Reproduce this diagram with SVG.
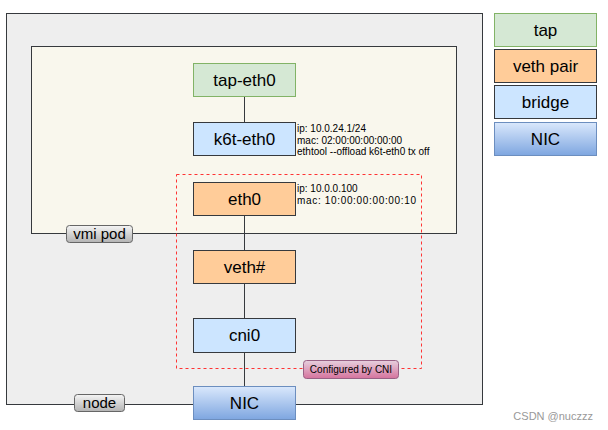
<svg xmlns="http://www.w3.org/2000/svg" width="608" height="430" viewBox="0 0 608 430">
<style>
text{font-family:"Liberation Sans",Arial,sans-serif;fill:#000}
.n{font-size:17px;text-anchor:middle}
.info{font-size:10px}
.box{stroke:#36393d;stroke-width:1}
.tap{fill:#d5e8d4;stroke:#82b366}
.veth{fill:#ffcc99}
.br{fill:#cce5ff}
.nic{fill:url(#gNic);stroke:#6c8ebf}
.conn line{stroke:#36393d;stroke-width:1}
</style>
<defs>
<linearGradient id="gNic" x1="0" y1="0" x2="0" y2="1"><stop offset="0" stop-color="#dae8fc"/><stop offset="1" stop-color="#7ea6e0"/></linearGradient>
<linearGradient id="gGrey" x1="0" y1="0" x2="0" y2="1"><stop offset="0" stop-color="#f5f5f5"/><stop offset="1" stop-color="#b3b3b3"/></linearGradient>
<linearGradient id="gPink" x1="0" y1="0" x2="0" y2="1"><stop offset="0" stop-color="#e6d0de"/><stop offset="1" stop-color="#d5739d"/></linearGradient>
</defs>
<rect width="608" height="430" fill="#ffffff"/>
<g id="node-host">
<rect x="6.5" y="13.5" width="476" height="391" fill="#eeeeee" stroke="#36393d"/>
</g>
<g id="vmi-pod">
<rect x="31.5" y="46.5" width="425" height="187" fill="#f9f7ed" stroke="#36393d"/>
</g>
<g id="cni-region">
<rect x="176.5" y="174.5" width="245" height="194" fill="none" stroke="#ff3333" stroke-dasharray="3 3"/>
</g>
<g class="conn" id="connectors">
<line x1="244.5" y1="97" x2="244.5" y2="122"/>
<line x1="244.5" y1="216" x2="244.5" y2="250"/>
<line x1="244.5" y1="284" x2="244.5" y2="318"/>
<line x1="244.5" y1="352" x2="244.5" y2="387"/>
</g>
<g id="tap-eth0">
<rect class="tap" x="193.5" y="63.5" width="102" height="33"/>
<text class="n" x="244.5" y="86">tap-eth0</text>
</g>
<g id="k6t-eth0">
<rect class="box br" x="193.5" y="122.5" width="102" height="33"/>
<text class="n" x="244.5" y="145">k6t-eth0</text>
<text class="info" x="297" y="132">ip: 10.0.24.1/24</text>
<text class="info" x="297" y="143.5">mac: 02:00:00:00:00:00</text>
<text class="info" x="297" y="155">ethtool --offload k6t-eth0 tx off</text>
</g>
<g id="eth0">
<rect class="box veth" x="193.5" y="182.5" width="102" height="33"/>
<text class="n" x="244.5" y="205">eth0</text>
<text class="info" x="297" y="192">ip: 10.0.0.100</text>
<text class="info" x="297" y="203.5" textLength="119" lengthAdjust="spacing">mac: 10:00:00:00:00:10</text>
</g>
<g id="veth">
<rect class="box veth" x="193.5" y="250.5" width="102" height="33"/>
<text class="n" x="244.5" y="273">veth#</text>
</g>
<g id="cni0">
<rect class="box br" x="193.5" y="318.5" width="102" height="34"/>
<text class="n" x="244.5" y="341">cni0</text>
</g>
<g id="nic">
<rect class="nic" x="193.5" y="386.5" width="102" height="33"/>
<text class="n" x="244.5" y="409">NIC</text>
</g>
<g id="label-vmi-pod">
<rect x="66.5" y="225.5" width="66" height="17" rx="3" fill="url(#gGrey)" stroke="#666666"/>
<text x="99.5" y="239" font-size="15" text-anchor="middle">vmi pod</text>
</g>
<g id="label-node">
<rect x="74.5" y="394.5" width="50" height="17" rx="3" fill="url(#gGrey)" stroke="#666666"/>
<text x="99.5" y="408" font-size="15" text-anchor="middle">node</text>
</g>
<g id="label-cni">
<rect x="303.5" y="360.5" width="95" height="18" rx="3" fill="url(#gPink)" stroke="#996185"/>
<text x="351" y="373" font-size="10" text-anchor="middle">Configured by CNI</text>
</g>
<g id="legend-tap">
<rect class="tap" x="494.5" y="13.5" width="102" height="33"/>
<text class="n" x="545.5" y="36">tap</text>
</g>
<g id="legend-veth">
<rect class="box veth" x="494.5" y="49.5" width="102" height="33" stroke="#7f7f7f"/>
<text class="n" x="545.5" y="72">veth pair</text>
</g>
<g id="legend-bridge">
<rect class="box br" x="494.5" y="85.5" width="102" height="33" stroke="#7f7f7f"/>
<text class="n" x="545.5" y="108">bridge</text>
</g>
<g id="legend-nic">
<rect class="nic" x="494.5" y="122.5" width="102" height="33"/>
<text class="n" x="545.5" y="145">NIC</text>
</g>
<text x="593" y="420" font-size="11" text-anchor="end" style="fill:#999999">CSDN @nuczzz</text>
</svg>
